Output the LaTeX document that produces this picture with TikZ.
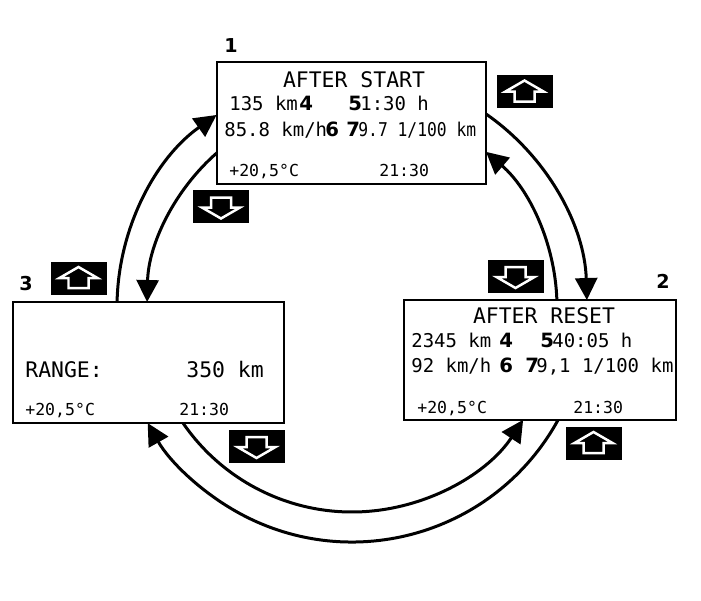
\documentclass[tikz,border=0pt]{standalone}
\usepackage{fontspec}
\setmainfont{DejaVu Sans}
\newfontfamily\lcd{DejaVu Sans Mono}
\newfontfamily\lcdnarrow[FakeStretch=0.86]{DejaVu Sans Mono}
\usetikzlibrary{arrows.meta,calc}

\begin{document}
\begin{tikzpicture}[x=0.02cm,y=-0.02cm,
  screen/.style={draw,line width=0.04cm,inner sep=0pt},
  cyc/.style={line width=0.06cm,-{Triangle[length=0.44cm,width=0.44cm]}},
  title/.style={anchor=base,inner sep=0pt,font=\lcd\fontsize{12.2}{14}\selectfont},
  txt/.style={anchor=base west,inner sep=0pt,font=\lcd\fontsize{10.8}{13}\selectfont},
  small/.style={anchor=base west,inner sep=0pt,font=\lcd\fontsize{9.4}{11}\selectfont},
  num/.style={anchor=base west,inner sep=0pt,font=\fontsize{11.2}{13}\selectfont\bfseries},
  upkey/.pic={
    \fill[black] (-28,-16.5) rectangle (28,16.5);
    \draw[white,line width=0.05cm] (0,-11) -- (19,0) -- (10,0) -- (10,10) -- (-10,10) -- (-10,0) -- (-19,0) -- cycle;
  },
  downkey/.pic={
    \fill[black] (-28,-16.5) rectangle (28,16.5);
    \draw[white,line width=0.05cm] (0,12) -- (19,1) -- (10,1) -- (10,-9) -- (-10,-9) -- (-10,1) -- (-19,1) -- cycle;
  }]
\useasboundingbox (0,0) rectangle (701,600);

%screens
\node[screen,minimum width=5.38cm,minimum height=2.44cm] (s1) at (351.5,123) {};
\node[screen,minimum width=5.44cm,minimum height=2.40cm] (s2) at (540,360) {};
\node[screen,minimum width=5.42cm,minimum height=2.42cm] (s3) at (148.5,362.5) {};

\node[num,font=\fontsize{10.9}{12}\selectfont\bfseries] (l1) at (224,52) {1};
\node[num,font=\fontsize{10.9}{12}\selectfont\bfseries] (l2) at (656,288) {2};
\node[num,font=\fontsize{10.9}{12}\selectfont\bfseries] (l3) at (19,290) {3};

%1
\node[title] (t1) at (354,87) {AFTER START};
\node[txt] (d1) at (229,110) {135 km};
\node[num] (a1) at (299,110) {4};
\node[num] (b1) at (348,110) {5};
\node[txt] (h1) at (360,110) {1:30 h};
\node[txt] (v1) at (224,136) {85.8 km/h};
\node[num] (e1) at (325,136) {6};
\node[num] (f1) at (346,136) {7};
\node[txt,font=\lcdnarrow\fontsize{10.8}{13}\selectfont] (c1) at (358,136) {9.7 1/100 km};
\node[small] (tp1) at (229,176) {+20,5°C};
\node[small] (k1) at (379,176) {21:30};

%2
\node[title] (t2) at (544,323) {AFTER RESET};
\node[txt] (d2) at (411,347) {2345 km};
\node[num] (a2) at (499,347) {4};
\node[num] (b2) at (540,347) {5};
\node[txt] (h2) at (552,347) {40:05 h};
\node[txt] (v2) at (411,372) {92 km/h};
\node[num] (e2) at (499,372) {6};
\node[num] (f2) at (525,372) {7};
\node[txt] (c2) at (536,372) {9,1 1/100 km};
\node[small] (tp2) at (417,413) {+20,5°C};
\node[small] (k2) at (573,413) {21:30};

%3
\node[title,anchor=base west] (r3) at (25,377) {RANGE:};
\node[title,anchor=base west] (d3) at (186,377) {350 km};
\node[small] (tp3) at (25,415) {+20,5°C};
\node[small] (k3) at (179,415) {21:30};

%keys
\pic (u1) at (524.5,91.5) {upkey};
\pic (w1) at (221,206.5) {downkey};
\pic (w2) at (515.5,276) {downkey};
\pic (u2) at (593.5,443) {upkey};
\pic (u3) at (78.5,278) {upkey};
\pic (w3) at (256.5,446) {downkey};

%arcs
\coordinate (ctr) at (352,307);
\coordinate (p31) at ($(ctr)+(181.2:235)$);
\coordinate (p13) at ($(ctr)+(228.8:205)$);
\coordinate (p12) at ($(ctr)+(304.8:235)$);
\coordinate (p21) at ($(ctr)+(358.0:205)$);
\coordinate (p23) at ($(ctr)+(28.7:235)$);
\coordinate (p32) at ($(ctr)+(145.5:205)$);

\draw[cyc] (p31) arc[start angle=181.2,end angle=234.8,radius=235];
\draw[cyc] (p13) arc[start angle=228.8,end angle=181.4,radius=205];
\draw[cyc] (p12) arc[start angle=304.8,end angle=358.3,radius=235];
\draw[cyc] (p21) arc[start angle=358.0,end angle=310.8,radius=205];
\draw[cyc] (p23) arc[start angle=28.7,end angle=150.4,radius=235];
\draw[cyc] (p32) arc[start angle=145.5,end angle=33.4,radius=205];
\end{tikzpicture}
\end{document}
